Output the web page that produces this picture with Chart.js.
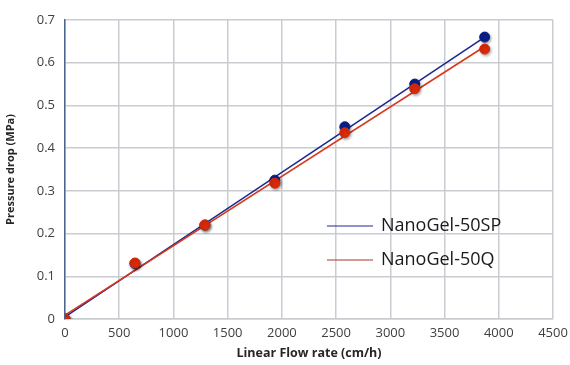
<!DOCTYPE html>
<html>
<head>
<meta charset="utf-8">
<script src="https://cdn.jsdelivr.net/npm/chart.js@4/dist/chart.umd.min.js"></script>
<style>
  html, body { margin: 0; padding: 0; background: #fff; }
  #wrap { width: 570px; height: 365px; }
</style>
</head>
<body>
<div id="wrap"><canvas id="myChart"></canvas></div>
<script>
// flow rate (cm/h)
const flowRates = [0, 645, 1290, 1935, 2580, 3225, 3870];
// pressure drop (MPa)
const pressureSP = [0, 0.13, 0.22, 0.325, 0.45, 0.55, 0.66];
const pressureQ = [0, 0.131, 0.22, 0.318, 0.436, 0.539, 0.632];
// trend lines, end points
const trendX = [0, 3870];
const trendSP = [0.005, 0.66];
const trendQ = [0.009, 0.638];
const seriesNames = ['NanoGel-50SP', 'NanoGel-50Q'];

const blue = '#1a2a8c';
const red = '#d8371c';

const toPoints = (xs, ys) => xs.map((x, i) => ({ x: x, y: ys[i] }));

// simple legend drawn inside the plot, lines only
const lineLegend = {
    id: 'lineLegend',
    afterDatasetsDraw(chart) {
        const ctx = chart.ctx;
        const entries = [[seriesNames[0], '#1f2b94'], [seriesNames[1], '#a8392c']];
        ctx.save();
        ctx.font = '18px "Open Sans", sans-serif';
        ctx.textBaseline = 'middle';
        entries.forEach((e, i) => {
            const y = 226 + i * 34;
            ctx.strokeStyle = e[1];
            ctx.lineWidth = 1.2;
            ctx.beginPath();
            ctx.moveTo(327, y);
            ctx.lineTo(373, y);
            ctx.stroke();
            ctx.fillStyle = '#1a1a1a';
            ctx.fillText(e[0], 381, y);
        });
        ctx.restore();
    }
};

// soft shadow under the markers, like the original
const markerShadow = {
    id: 'markerShadow',
    beforeDatasetDraw(chart, args) {
        if (args.index < 2) return;
        const ctx = chart.ctx;
        ctx.save();
        ctx.shadowColor = 'rgba(0,0,0,0.35)';
        ctx.shadowBlur = 3;
        ctx.shadowOffsetX = 1;
        ctx.shadowOffsetY = 1.5;
    },
    afterDatasetDraw(chart, args) {
        if (args.index < 2) return;
        chart.ctx.restore();
    }
};

const ctx = document.getElementById('myChart').getContext('2d');
new Chart(ctx, {
    type: 'scatter',
    data: {
        datasets: [
            {
                label: seriesNames[0] + ' trend',
                data: toPoints(trendX, trendSP),
                showLine: true,
                borderColor: blue,
                borderWidth: 1.6,
                pointRadius: 0,
                order: 4
            },
            {
                label: seriesNames[1] + ' trend',
                data: toPoints(trendX, trendQ),
                showLine: true,
                borderColor: red,
                borderWidth: 1.6,
                pointRadius: 0,
                order: 3
            },
            {
                label: seriesNames[0],
                data: toPoints(flowRates, pressureSP),
                backgroundColor: '#0c1e8a',
                borderColor: '#0c1e8a',
                pointRadius: 5,
                order: 2
            },
            {
                label: seriesNames[1],
                data: toPoints(flowRates, pressureQ),
                backgroundColor: '#dc2a08',
                borderColor: '#dc2a08',
                pointRadius: 5,
                order: 1
            }
        ]
    },
    options: {
        responsive: true,
        maintainAspectRatio: false,
        animation: false,
        layout: { padding: { top: 20, right: 0, bottom: 0, left: 0 } },
        plugins: {
            legend: { display: false },
            tooltip: { enabled: false }
        },
        scales: {
            x: {
                min: 0,
                max: 4500,
                ticks: {
                    stepSize: 500,
                    color: '#404040',
                    font: { family: '"Open Sans", sans-serif', size: 13 },
                    padding: 6,
                    callback: v => String(v)
                },
                grid: { color: '#c9ccd1', lineWidth: 1.5, drawTicks: false },
                border: { color: '#c9ccd1', width: 1.5 },
                title: {
                    display: true,
                    text: 'Linear Flow rate (cm/h)',
                    color: '#262626',
                    font: { family: '"Open Sans", sans-serif', size: 12.5, weight: 'bold' },
                    padding: { top: 3 }
                },
                afterFit(scale) {
                    scale.height = 46;
                    scale.paddingRight = 17;
                }
            },
            y: {
                min: 0,
                max: 0.7,
                ticks: {
                    stepSize: 0.1,
                    color: '#404040',
                    font: { family: '"Open Sans", sans-serif', size: 13 },
                    padding: 10
                },
                grid: { color: '#c9ccd1', lineWidth: 1.5, drawTicks: false },
                border: { color: '#4a6690', width: 1.5 },
                title: {
                    display: true,
                    text: 'Pressure drop (MPa)',
                    color: '#262626',
                    font: { family: '"Open Sans", sans-serif', size: 11, weight: 'bold' },
                    padding: { bottom: 2 }
                },
                afterFit(scale) { scale.width = 65; }
            }
        }
    },
    plugins: [lineLegend, markerShadow]
});
</script>
</body>
</html>
